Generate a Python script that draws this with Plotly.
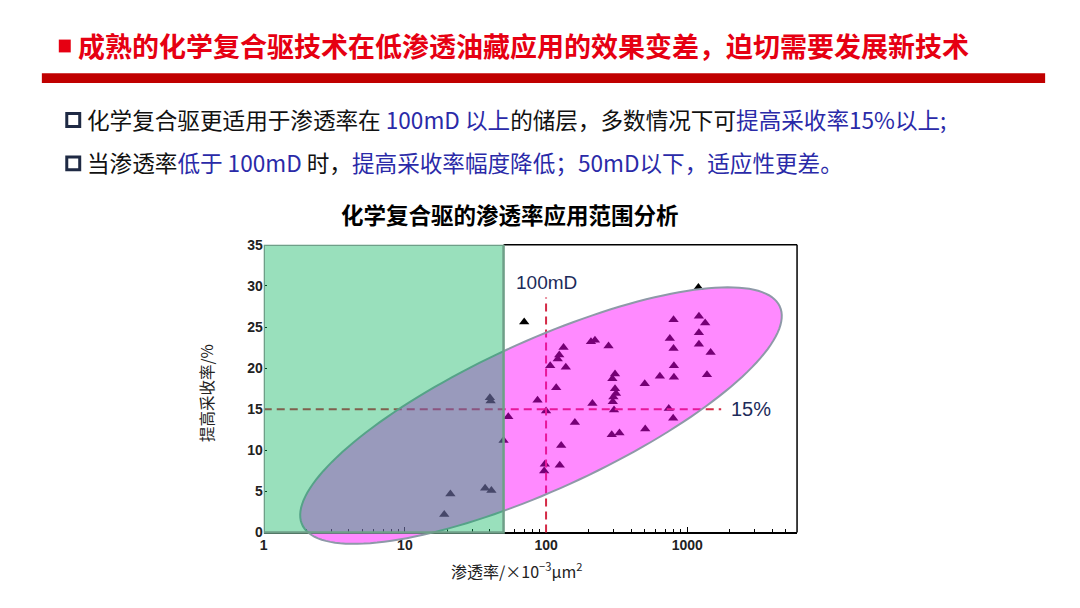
import numpy as np
import plotly.graph_objects as go

# permeability (x 10^-3 um^2) and recovery increase (%)
permeability = [19, 21, 37, 41, 40, 40.5, 50,
                70, 1200,
                54, 87, 100, 118, 160, 128, 125, 98, 97,
                107, 121, 124, 133, 138,
                208, 222, 277, 213,
                308, 295, 308, 313, 300, 297, 303, 292, 331,
                500, 504, 640, 740, 795,
                753, 800, 805, 805, 800,
                1210, 1340, 1210, 1210, 1465, 1380]
recovery = [2.2, 4.7, 5.4, 5.1, 16.4, 16.0, 11.2,
            25.6, 29.8,
            14.1, 16.1, 14.8, 17.6, 13.4, 10.6, 8.2, 8.3, 7.5,
            20.3, 21.1, 21.6, 22.5, 20.1,
            23.2, 23.4, 22.7, 15.7,
            19.3, 18.7, 17.5, 16.9, 16.5, 15.9, 14.9, 11.9, 12.1,
            18.1, 12.6, 19.0, 15.1, 13.9,
            23.6, 22.4, 20.3, 18.9, 25.9,
            26.3, 25.5, 24.3, 22.9, 21.9, 19.2]

x_ticks = [1, 10, 100, 1000]
y_ticks = [0, 5, 10, 15, 20, 25, 30, 35]
minor_ticks = [2, 3, 4, 5, 6, 7, 8, 9, 20, 30, 40, 50, 60, 70, 80, 90,
               200, 300, 400, 500, 600, 700, 800, 900, 2000, 3000, 4000, 5000]

low_perm_limit = 50
perm_line = 100
recovery_line = 15

W, H = 1080, 608
x_max_log = 3.778
y_min, y_max = -2, 35

CJK = "Noto Sans CJK SC"
ARIAL = "Liberation Sans, Arial"
BLUE = "#2a2aa8"

# ellipse (screen-space shape over the log axis)
px_dec, px_unit = 141.7, 8.33
ecx, ecy = 1.964, 14.23
ea, eb, ang = 264, 75, np.radians(24.8)
t = np.linspace(0, 2 * np.pi, 160)
dx = ea * np.cos(t) * np.cos(ang) - eb * np.sin(t) * np.sin(ang)
dy = ea * np.cos(t) * np.sin(ang) + eb * np.sin(t) * np.cos(ang)
ex = 10 ** (ecx + dx / px_dec)
ey = ecy + dy / px_unit
ellipse_path = "M " + " L ".join(f"{a:.5f},{b:.4f}" for a, b in zip(ex, ey)) + " Z"

fig = go.Figure()
fig.add_trace(go.Scatter(
    x=permeability, y=recovery, mode="markers",
    marker=dict(symbol="triangle-up", size=9, color="black"),
    showlegend=False, hoverinfo="skip"))

y0_dom = (0 - y_min) / (y_max - y_min)
shapes = [
    dict(type="line", xref="x", yref="y", x0=perm_line, x1=perm_line, y0=0, y1=28.6,
         line=dict(color="#d42a46", width=2, dash="8px,5px"), layer="above"),
    dict(type="line", xref="x", yref="y", x0=1, x1=1740, y0=recovery_line, y1=recovery_line,
         line=dict(color="#d42a46", width=2, dash="8px,5px"), layer="above"),
    dict(type="path", xref="x", yref="y", path=ellipse_path,
         fillcolor="rgba(255,0,255,0.46)", line=dict(color="#8e99a8", width=2), layer="above"),
    # frame (top and right)
    dict(type="line", xref="x domain", yref="y domain", x0=np.log10(low_perm_limit) / x_max_log, x1=1,
         y0=1, y1=1, line=dict(color="black", width=1.5), layer="above"),
    dict(type="line", xref="x domain", yref="y domain", x0=1, x1=1, y0=y0_dom, y1=1,
         line=dict(color="black", width=1.5), layer="above"),
    dict(type="rect", xref="x", yref="y", x0=1, x1=low_perm_limit, y0=0, y1=35,
         fillcolor="rgba(0,178,87,0.4)", line=dict(color="#6f9f88", width=2.5), layer="above"),
    # page decorations
    dict(type="rect", xref="paper", yref="paper", x0=55 / W, x1=67 / W, y0=1 - 45 / H, y1=1 - 32 / H,
         fillcolor="#e60012", line=dict(width=0)),
    dict(type="rect", xref="paper", yref="paper", x0=38 / W, x1=1045 / W, y0=1 - 76 / H, y1=1 - 66 / H,
         fillcolor="#c00000", line=dict(width=0)),
    dict(type="rect", xref="paper", yref="paper", x0=63 / W, x1=76 / W, y0=1 - 120 / H, y1=1 - 107 / H,
         fillcolor="white", line=dict(color="#1f2a44", width=3)),
    dict(type="rect", xref="paper", yref="paper", x0=63 / W, x1=76 / W, y0=1 - 164 / H, y1=1 - 151 / H,
         fillcolor="white", line=dict(color="#1f2a44", width=3)),
]

line1 = ("化学复合驱更适用于渗透率在 <span style='color:%s'>100mD 以上</span>的储层，多数情况下可"
         "<span style='color:%s'>提高采收率15%%以上;</span>" % (BLUE, BLUE))
line2 = ("当渗透率<span style='color:%s'>低于 100mD</span> 时，"
         "<span style='color:%s'>提高采收率幅度降低；50mD以下，适应性更差。</span>" % (BLUE, BLUE))

annotations = [
    dict(text="<b>成熟的化学复合驱技术在低渗透油藏应用的效果变差，迫切需要发展新技术</b>",
         xref="paper", yref="paper", x=72 / W, y=1 - 38 / H, xanchor="left", yanchor="middle",
         showarrow=False, font=dict(family=CJK, size=27, color="#e60012")),
    dict(text=line1, xref="paper", yref="paper", x=81 / W, y=1 - 113 / H, xanchor="left",
         yanchor="middle", showarrow=False, font=dict(family=CJK, size=22.6, color="#111111")),
    dict(text=line2, xref="paper", yref="paper", x=81 / W, y=1 - 157 / H, xanchor="left",
         yanchor="middle", showarrow=False, font=dict(family=CJK, size=22.6, color="#111111")),
    dict(text="<b>化学复合驱的渗透率应用范围分析</b>", xref="paper", yref="paper",
         x=508 / W, y=1 - 209 / H, xanchor="center", yanchor="middle", showarrow=False,
         font=dict(family=CJK, size=22.5, color="black")),
    dict(text="提高采收率/%", xref="paper", yref="paper", x=203 / W, y=1 - 390 / H,
         textangle=-90, xanchor="center", yanchor="middle", showarrow=False,
         font=dict(family=CJK, size=15.5, color="#222222")),
    dict(text="渗透率/×10<sup>−3</sup>μm<sup>2</sup>", xref="paper", yref="paper",
         x=515 / W, y=1 - 570 / H, xanchor="center", yanchor="middle", showarrow=False,
         font=dict(family=CJK, size=16, color="#222222")),
    dict(text="100mD", xref="x", yref="y", x=np.log10(perm_line), y=30.4,
         xanchor="center", yanchor="middle", showarrow=False,
         font=dict(family=ARIAL, size=19, color="#1c2b5a")),
    dict(text="15%", xref="x", yref="y", x=np.log10(1990), y=recovery_line,
         xanchor="left", yanchor="middle", showarrow=False,
         font=dict(family=ARIAL, size=20, color="#1c2b5a")),
]

fig.update_layout(
    width=W, height=H,
    margin=dict(l=0, r=0, t=0, b=0),
    paper_bgcolor="white", plot_bgcolor="white",
    shapes=shapes, annotations=annotations,
    xaxis=dict(type="log", range=[0, x_max_log], domain=[260.7 / W, 796 / W],
               anchor="free", position=1 - 531.5 / H,
               tickvals=x_ticks, ticktext=[str(v) for v in x_ticks],
               ticks="inside", ticklen=5, tickcolor="black",
               minor=dict(tickvals=minor_ticks, ticks="inside", ticklen=3, tickcolor="black", showgrid=False),
               showline=True, linecolor="black", linewidth=1.5,
               showgrid=False, zeroline=False,
               tickfont=dict(family=ARIAL, size=14, color="#222222", weight="bold")),
    yaxis=dict(range=[y_min, y_max], domain=[1 - 548.2 / H, 1 - 240 / H],
               tickvals=y_ticks, ticks="inside", ticklen=3, tickcolor="black",
               showline=False, showgrid=False, zeroline=False,
               tickfont=dict(family=ARIAL, size=14, color="#222222", weight="bold")),
)

fig.write_html("out.html", config={"displayModeBar": False},
               post_script="document.body.style.margin='0px';")
